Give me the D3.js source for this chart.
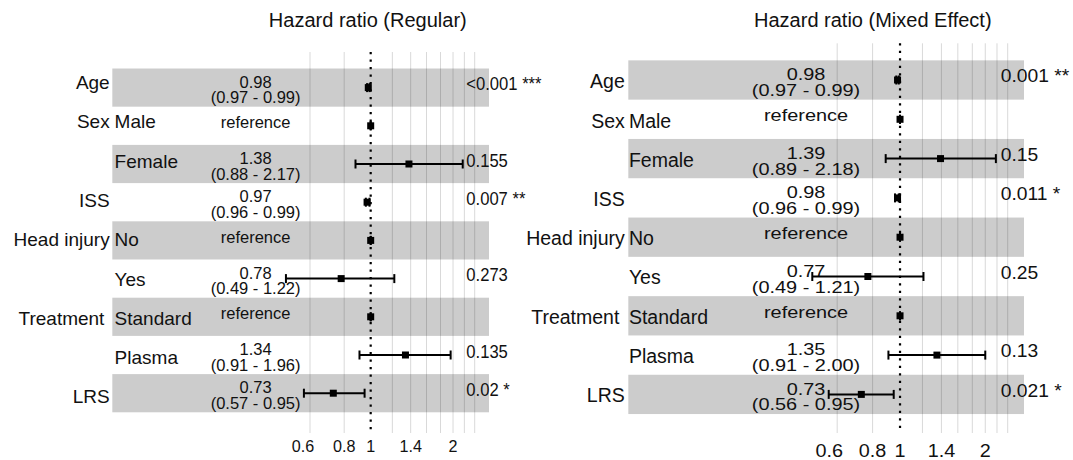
<!DOCTYPE html>
<html>
<head>
<meta charset="utf-8">
<script src="https://cdn.jsdelivr.net/npm/d3@7"></script>
<style>
  body { margin: 0; background: #fff; }
  svg { display: block; }
  text { font-family: "Liberation Sans", Arial, Helvetica, sans-serif; fill: #111; }
</style>
</head>
<body>
<svg id="chart" width="1073" height="460"></svg>
<script>
// Rows of the forest plot (top to bottom)
const varNames   = ["Age", "Sex", "", "ISS", "Head injury", "", "Treatment\u00A0", "", "LRS"];
const levelNames = ["", "Male", "Female", "", "No", "Yes", "Standard", "Plasma", ""];
const isReference = [false, true, false, false, true, false, true, false, false];

// Cox model (regular)
const regHR   = [0.98, 1, 1.38, 0.97, 1, 0.78, 1, 1.34, 0.73];
const regLow  = [0.97, 1, 0.88, 0.96, 1, 0.49, 1, 0.91, 0.57];
const regHigh = [0.99, 1, 2.17, 0.99, 1, 1.22, 1, 1.96, 0.95];
const regP    = ["<0.001 ***", "", "0.155", "0.007 **", "", "0.273", "", "0.135", "0.02 *"];

// Mixed-effect Cox model
const mixHR   = [0.98, 1, 1.39, 0.98, 1, 0.77, 1, 1.35, 0.73];
const mixLow  = [0.97, 1, 0.89, 0.96, 1, 0.49, 1, 0.91, 0.56];
const mixHigh = [0.99, 1, 2.18, 0.99, 1, 1.21, 1, 2.00, 0.95];
const mixP    = ["0.001 **", "", "0.15", "0.011 *", "", "0.25", "", "0.13", "0.021 *"];

// Axis
const gridBreaks = [0.6, 0.8, 1.2, 1.4, 1.6, 1.8, 2, 2.2, 2.4];
const tickValues = [0.6, 0.8, 1, 1.4, 2];
const tickLabels = ["0.6", "0.8", "1", "1.4", "2"];
const titles = ["Hazard ratio (Regular)", "Hazard ratio (Mixed Effect)"];

const panels = [
  { title: titles[0], hr: regHR, low: regLow, high: regHigh, p: regP,
    xRange: [310.0, 474.7], yRange: [87.6, 393.2], labRange: [89, 403.4],
    nameX: 109.7, levelX: 114.6, band: [112.3, 489], grid: [52, 433],
    estX: 255.6, estFont: 16.5, estSx: 1.0, est2Dy: 15.7, refDy: 2.5,
    pX: 466.3, pFont: 17.5, pSx: 0.95, pDy: 2.6,
    tickFont: 17, tickSx: 0.95, tickY: 451.5, firstTickShift: -7,
    titleX: 367.8, labelFont: 19 },
  { title: titles[1], hr: mixHR, low: mixLow, high: mixHigh, p: mixP,
    xRange: [837.2, 1007.7], yRange: [80, 394.4], labRange: [88.3, 401.9],
    nameX: 624.8, levelX: 628.9, band: [628.3, 1024], grid: [43.3, 433],
    estX: 806, estFont: 17, estSx: 1.17, est2Dy: 16, refDy: 1.8,
    pX: 1000.8, pFont: 18, pSx: 1.07, pDy: 2.2,
    tickFont: 18.7, tickSx: 1.06, tickY: 456.5, firstTickShift: -8,
    titleX: 872.8, labelFont: 19.5 }
];

const svg = d3.select("#chart");
const rows = d3.range(varNames.length);

function stretchedText(g, x, y, str, size, sx, anchor) {
  return g.append("text")
    .attr("transform", `translate(${x},${y}) scale(${sx},1)`)
    .attr("text-anchor", anchor)
    .style("font-size", size + "px")
    .text(str);
}

panels.forEach(P => {
  const g = svg.append("g");
  const x = d3.scaleLog().domain([0.6, 2.4]).range(P.xRange);
  const y = d3.scaleLinear().domain([0, rows.length - 1]).range(P.yRange);
  const yLab = d3.scaleLinear().domain([0, rows.length - 1]).range(P.labRange);
  const rowH = y(1) - y(0);

  // title
  g.append("text")
    .attr("x", P.titleX).attr("y", 26.7)
    .attr("text-anchor", "middle")
    .style("font-size", "20px")
    .text(P.title);

  // vertical grid
  g.selectAll("line.grid").data(gridBreaks).join("line")
    .attr("class", "grid")
    .attr("x1", d => x(d)).attr("x2", d => x(d))
    .attr("y1", P.grid[0]).attr("y2", P.grid[1])
    .attr("stroke", "#d9d9d9").attr("stroke-width", 1);

  // alternating row shading
  g.selectAll("rect.band").data(rows.filter(i => i % 2 === 0)).join("rect")
    .attr("class", "band")
    .attr("x", P.band[0]).attr("width", P.band[1] - P.band[0])
    .attr("y", i => y(i) - rowH / 2).attr("height", rowH)
    .attr("fill", "rgba(0,0,0,0.2)");

  // reference line at HR = 1
  g.append("line")
    .attr("x1", x(1)).attr("x2", x(1))
    .attr("y1", P.grid[0]).attr("y2", P.grid[1])
    .attr("stroke", "#000").attr("stroke-width", 2.2)
    .attr("stroke-dasharray", "2.2 5.3");

  // variable and level names
  rows.forEach(i => {
    if (varNames[i]) {
      g.append("text").attr("x", P.nameX).attr("y", yLab(i))
        .attr("text-anchor", "end").style("font-size", P.labelFont + "px")
        .text(varNames[i]);
    }
    if (levelNames[i]) {
      g.append("text").attr("x", P.levelX).attr("y", yLab(i))
        .attr("text-anchor", "start").style("font-size", P.labelFont + "px")
        .text(levelNames[i]);
    }
  });

  // estimate and confidence interval text
  rows.forEach(i => {
    if (isReference[i]) {
      stretchedText(g, P.estX, y(i) + P.refDy, "reference", P.estFont, P.estSx, "middle");
    } else {
      stretchedText(g, P.estX, y(i) + 0.2, P.hr[i].toFixed(2), P.estFont, P.estSx, "middle");
      stretchedText(g, P.estX, y(i) + P.est2Dy,
        "(" + P.low[i].toFixed(2) + " - " + P.high[i].toFixed(2) + ")",
        P.estFont, P.estSx, "middle");
    }
    if (P.p[i]) {
      stretchedText(g, P.pX, y(i) + P.pDy, P.p[i], P.pFont, P.pSx, "start");
    }
  });

  // confidence interval bars
  g.selectAll("line.ci").data(rows).join("line")
    .attr("class", "ci")
    .attr("x1", i => x(P.low[i])).attr("x2", i => x(P.high[i]))
    .attr("y1", i => y(i)).attr("y2", i => y(i))
    .attr("stroke", "#000").attr("stroke-width", 2);
  ["low", "high"].forEach(k => {
    g.selectAll("line.cap-" + k).data(rows).join("line")
      .attr("class", "cap-" + k)
      .attr("x1", i => x(P[k][i])).attr("x2", i => x(P[k][i]))
      .attr("y1", i => y(i) - 4.5).attr("y2", i => y(i) + 4.5)
      .attr("stroke", "#000").attr("stroke-width", 2);
  });

  // point estimates
  const s = 7;
  g.selectAll("rect.pt").data(rows).join("rect")
    .attr("class", "pt")
    .attr("x", i => x(P.hr[i]) - s / 2).attr("y", i => y(i) - s / 2)
    .attr("width", s).attr("height", s)
    .attr("fill", "#000");

  // x axis labels (the lowest label sits a little left of its break)
  tickValues.forEach((v, k) => {
    const shift = k === 0 ? P.firstTickShift : 0;
    stretchedText(g, x(v) + shift, P.tickY, tickLabels[k], P.tickFont, P.tickSx, "middle");
  });
});
</script>
</body>
</html>
